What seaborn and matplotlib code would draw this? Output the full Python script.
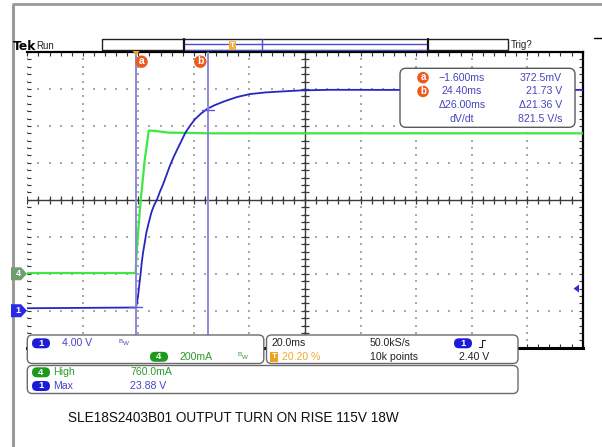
import numpy as np
import pandas as pd
import matplotlib
matplotlib.use("Agg")
import matplotlib.pyplot as plt
import seaborn as sns
from matplotlib.patches import FancyBboxPatch, Rectangle, Polygon, Circle

# ---------------- data ----------------
ch1_time_ms = [-40.6, -1.44, -1.08, -0.72, -0.25, 0.25, 0.61, 1.08, 1.69, 2.27,
               3.14, 4.07, 5.05, 6.13, 7.10, 8.29, 9.48, 10.70, 12.14, 13.69,
               14.88, 16.32, 17.91, 19.71, 21.87, 24.25, 26.92, 30.52, 34.95, 39.6,
               45.0, 50.5, 57.7, 68.5, 90.0, 120.0, 159.4]
ch1_volts = [0.27, 0.35, 0.89, 1.60, 2.86, 4.13, 5.21, 6.29, 7.37, 8.45,
             9.53, 10.62, 11.41, 12.05, 12.84, 13.68, 14.65, 15.65, 16.67, 17.64,
             18.36, 19.27, 19.98, 20.70, 21.32, 21.86, 22.25, 22.68, 23.13, 23.45,
             23.62, 23.72, 23.84, 23.91, 23.90, 23.90, 23.90]
ch4_time_ms = [-40.6, -1.6, -1.44, -0.72, 0.25, 1.69, 3.14, 5.3, 10.1, 24.5, 159.4]
ch4_mA = [4, 4, 58, 220, 400, 616, 775, 773, 764, 760, 760]

ch1_scale_v = 4.0        # V/div
ch1_offset_div = -3.0
ch4_scale_ma = 200.0     # mA/div
ch4_offset_div = -2.0
time_window_ms = (-40.6, 159.4)   # 20 ms/div, 10 div
cursor_a_ms, cursor_b_ms = -1.6, 24.40
cursor_a_v, cursor_b_v = 0.3725, 21.73
trigger_level_v = 2.40

readout_rows = [("a", "\u22121.600ms", "372.5mV"),
                ("b", "24.40ms", "21.73 V"),
                ("", "\u039426.00ms", "\u039421.36 V"),
                ("", "dV/dt", "821.5 V/s")]
caption = "SLE18S2403B01 OUTPUT TURN ON RISE 115V 18W"

# ---------------- style ----------------
sns.set_style("white")
plt.rcParams["font.family"] = ["Liberation Sans", "DejaVu Sans"]

W, H = 602, 447
fig = plt.figure(figsize=(W / 100, H / 100), dpi=100)
fig.patch.set_facecolor("white")

X0, X1, Y0, Y1 = 27.3, 582.7, 52.0, 347.7
ax = fig.add_axes([X0 / W, 1 - Y1 / H, (X1 - X0) / W, (Y1 - Y0) / H])
ax.set_zorder(1)

BLUE = "#2626c4"
GREEN = "#3ee83e"
TXT_BLUE = "#4646be"
TXT_GREEN = "#2f9a2f"
ORANGE = "#ee5a1e"

ax.set_xlim(*time_window_ms)
ax.set_ylim(-4, 4)
xmaj = np.linspace(time_window_ms[0], time_window_ms[1], 11)
ymaj = np.arange(-4, 5, 1.0)
xmin_ = np.linspace(time_window_ms[0], time_window_ms[1], 51)
ymin_ = np.arange(-4, 4.01, 0.2)

# dotted graticule
gx, gy = np.meshgrid(xmaj[1:-1], ymin_)
ax.scatter(gx.ravel(), gy.ravel(), s=1.0, c="#a8a8a8", marker="s", linewidths=0, zorder=1)
gx, gy = np.meshgrid(xmin_, ymaj[1:-1])
ax.scatter(gx.ravel(), gy.ravel(), s=1.0, c="#a8a8a8", marker="s", linewidths=0, zorder=1)
ax.scatter(np.full_like(ymin_, xmaj[0]), ymin_, s=1.2, c="#888888", marker="s", linewidths=0, zorder=1)

# center crosshair with minor ticks
xc = xmaj[5]
ax.axvline(xc, color="#3a3a3a", lw=1.0, zorder=2)
ax.axhline(0, color="#3a3a3a", lw=1.0, zorder=2)
ax.plot(np.full_like(ymin_, xc), ymin_, ls="none", marker="_", ms=6, mew=0.9, color="#3a3a3a", zorder=2)
ax.plot(xmin_, np.zeros_like(xmin_), ls="none", marker="|", ms=6, mew=0.9, color="#3a3a3a", zorder=2)

# frame ticks
ax.set_xticks(xmin_)
ax.set_yticks(ymin_)
ax.tick_params(axis="both", which="major", direction="in", length=3, width=0.8,
               color="#333333", top=True, right=True, left=True, bottom=True,
               labelbottom=False, labelleft=False)
for s in ["top", "right", "bottom"]:
    ax.spines[s].set_color("black")
    ax.spines[s].set_linewidth(1.6)
ax.spines["bottom"].set_linewidth(2.2)
ax.spines["left"].set_visible(False)

# traces
df1 = pd.DataFrame({"t": ch1_time_ms,
                    "div": np.array(ch1_volts) / ch1_scale_v + ch1_offset_div})
df4 = pd.DataFrame({"t": ch4_time_ms,
                    "div": np.array(ch4_mA) / ch4_scale_ma + ch4_offset_div})
sns.lineplot(data=df4, x="t", y="div", ax=ax, color=GREEN, lw=1.6,
             estimator=None, sort=False, zorder=4)
sns.lineplot(data=df1, x="t", y="div", ax=ax, color=BLUE, lw=1.3,
             estimator=None, sort=False, zorder=5)
ax.set_xlabel("")
ax.set_ylabel("")

# cursors
for cx, cv in [(cursor_a_ms, cursor_a_v), (cursor_b_ms, cursor_b_v)]:
    ax.axvline(cx, color="#8a8ad8", lw=1.4, zorder=6)
    ax.plot([cx - 2.2, cx + 2.2], [cv / ch1_scale_v + ch1_offset_div] * 2,
            color="#5a5ad0", lw=1.0, zorder=6)

# ---------------- overlay (screen furniture) ----------------
ov = fig.add_axes([0, 0, 1, 1])
ov.set_zorder(5)
ov.patch.set_alpha(0)
ov.set_xlim(0, W)
ov.set_ylim(H, 0)
ov.axis("off")

def px_x(t):
    return X0 + (t - time_window_ms[0]) / (time_window_ms[1] - time_window_ms[0]) * (X1 - X0)

def px_y(d):
    return Y0 + (4 - d) / 8 * (Y1 - Y0)

# window border
ov.plot([13, 13], [4, H], color="#9a9a9a", lw=2.2, solid_capstyle="butt")
ov.plot([12, W], [4.2, 4.2], color="#9a9a9a", lw=2.0, solid_capstyle="butt")
ov.plot([594, 602], [37.5, 37.5], color="black", lw=1.0)

# Tek Run
ov.text(12.5, 46.5, "Tek", fontsize=8.8, fontweight="bold", va="center", ha="left",
        family=["DejaVu Sans"], color="black")
ov.text(36.5, 46, "Run", fontsize=7, va="center", ha="left", color="#222222")

# record bar
ov.add_patch(Rectangle((102, 39.3), 406, 11, fc="white", ec="#222222", lw=1.0, zorder=2))
ov.plot([184, 428], [44.4, 44.4], color="#4b4bd0", lw=1.0, zorder=3)
ov.plot([184, 428], [50.3, 50.3], color="#4b4bd0", lw=0.8, zorder=3)
ov.plot([184, 184], [39.3, 50.3], color="#111111", lw=1.6, zorder=3)
ov.plot([428, 428], [39.3, 50.3], color="#111111", lw=1.6, zorder=3)
ov.plot([262, 262], [39.3, 50.3], color="#4b4bd0", lw=1.0, zorder=3)
ov.add_patch(Rectangle((229, 40.5), 6.5, 9, fc="#f0b040", ec="none", zorder=4))
ov.text(232.3, 45.2, "T", fontsize=6, color="white", ha="center", va="center", fontweight="bold", zorder=5)
ov.text(511, 45, "Trig?", fontsize=7, ha="left", va="center", color="#222222")

# cursor flags at top
xa, xb = px_x(cursor_a_ms), px_x(cursor_b_ms)
ov.add_patch(Polygon([[xa - 3, 51], [xa + 4, 51], [xa + 0.5, 56]], closed=True, fc="#f0a030", ec="none", zorder=6))
for cx, lab in [(xa + 6, "a"), (xb - 7.5, "b")]:
    ov.add_patch(Circle((cx, 61.7), 6.2, fc=ORANGE, ec="none", zorder=6))
    ov.text(cx, 61.4, lab, fontsize=7.5, color="white", ha="center", va="center",
            fontweight="bold", zorder=7)

# channel markers
def ch_marker(y, col, lab):
    ov.add_patch(Polygon([[11, y - 6.5], [21, y - 6.5], [27, y], [21, y + 6.5], [11, y + 6.5]],
                         closed=True, fc=col, ec="none", zorder=6))
    ov.text(18, y, lab, fontsize=6.5, color="white", ha="center", va="center", fontweight="bold", zorder=7)

ch_marker(px_y(ch1_offset_div), "#2a2ae6", "1")
ch_marker(px_y(ch4_offset_div), "#6f9f6f", "4")
ty = px_y(trigger_level_v / ch1_scale_v + ch1_offset_div)
ov.add_patch(Polygon([[573.5, ty], [579, ty - 4], [579, ty + 4]], closed=True, fc="#2a2ae6", ec="none", zorder=6))

# cursor readout box
ov.add_patch(FancyBboxPatch((400, 68.3), 175, 59, boxstyle="round,pad=0,rounding_size=6",
                            fc="white", ec="#5a5a5a", lw=1.0, zorder=6))
for i, (lab, c1, c2) in enumerate(readout_rows):
    yy = 77.7 + i * 13.7
    if lab:
        ov.add_patch(Circle((423, yy), 5.8, fc=ORANGE, ec="none", zorder=7))
        ov.text(423, yy - 0.3, lab, fontsize=7, color="white", ha="center", va="center",
                fontweight="bold", zorder=8)
    ov.text(462, yy, c1, fontsize=7.6, color=TXT_BLUE, ha="center", va="center", zorder=8)
    ov.text(562, yy, c2, fontsize=7.6, color=TXT_BLUE, ha="right", va="center", zorder=8)

# bottom panels
def panel(x, y, w, h):
    ov.add_patch(FancyBboxPatch((x, y), w, h, boxstyle="round,pad=0,rounding_size=5",
                                fc="white", ec="#6a6a6a", lw=1.0, zorder=6))

def pill(cx, cy, col, lab):
    ov.add_patch(FancyBboxPatch((cx - 9, cy - 5), 18, 10, boxstyle="round,pad=0,rounding_size=5",
                                fc=col, ec="none", zorder=7))
    ov.text(cx, cy, lab, fontsize=6.8, color="white", ha="center", va="center",
            fontweight="bold", zorder=8)

panel(27.3, 335, 236.5, 28.5)
panel(266.5, 335, 251.5, 28.5)
panel(27.3, 365.5, 490.7, 28)

FS = 7.6
pill(41, 343.3, "#1c1cd8", "1")
ov.text(62, 343.3, "4.00 V", fontsize=FS, color=TXT_BLUE, ha="left", va="center", zorder=8)
ov.text(118.5, 341.5, "B", fontsize=4.5, color=TXT_BLUE, ha="left", va="center", zorder=8)
ov.text(122.5, 343.8, "W", fontsize=4.5, color=TXT_BLUE, ha="left", va="center", zorder=8)
pill(159, 356.8, "#1c9a1c", "4")
ov.text(180, 356.8, "200mA", fontsize=FS, color=TXT_GREEN, ha="left", va="center", zorder=8)
ov.text(237.5, 355.0, "B", fontsize=4.5, color=TXT_GREEN, ha="left", va="center", zorder=8)
ov.text(241.5, 357.3, "W", fontsize=4.5, color=TXT_GREEN, ha="left", va="center", zorder=8)

ov.text(271, 343.3, "20.0ms", fontsize=FS, color="#222222", ha="left", va="center", zorder=8)
ov.add_patch(Rectangle((270, 352), 8, 9.5, fc="#f0a020", ec="none", zorder=7))
ov.text(274, 356.8, "T", fontsize=6, color="white", ha="center", va="center", fontweight="bold", zorder=8)
ov.text(282, 356.8, "20.20 %", fontsize=FS, color="#f0a830", ha="left", va="center", zorder=8)
ov.text(370, 343.3, "50.0kS/s", fontsize=FS, color="#222222", ha="left", va="center", zorder=8)
ov.text(370, 356.8, "10k points", fontsize=FS, color="#222222", ha="left", va="center", zorder=8)
pill(463, 343.3, "#1c1cd8", "1")
ov.plot([479, 482, 482, 485], [347, 347, 340, 340], color="#222222", lw=0.8, zorder=8)
ov.text(459, 356.8, "2.40 V", fontsize=FS, color="#222222", ha="left", va="center", zorder=8)

pill(41, 372.3, "#1c9a1c", "4")
ov.text(53, 372.3, "High", fontsize=FS, color=TXT_GREEN, ha="left", va="center", zorder=8)
ov.text(130, 372.3, "760.0mA", fontsize=FS, color=TXT_GREEN, ha="left", va="center", zorder=8)
pill(41, 386, "#1c1cd8", "1")
ov.text(53, 386, "Max", fontsize=FS, color=TXT_BLUE, ha="left", va="center", zorder=8)
ov.text(130, 386, "23.88 V", fontsize=FS, color=TXT_BLUE, ha="left", va="center", zorder=8)

# caption
ov.text(68, 418.5, caption, fontsize=9.8, color="#111111", ha="left", va="center",
        family=["Liberation Sans"])

fig.savefig("out.png", dpi=100, facecolor="white")
